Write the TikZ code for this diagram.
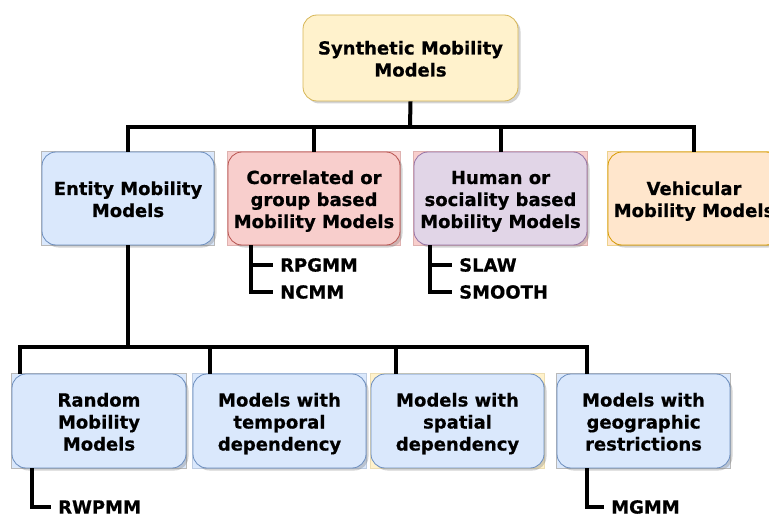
\documentclass[tikz,border=0pt]{standalone}
\usepackage{fontspec}
\setmainfont{DejaVu Sans}[BoldFeatures={FakeBold=0.6}]
\usepackage{tikz}
\usetikzlibrary{shapes,shadows,calc,backgrounds}
\definecolor{ylwfill}{HTML}{FFF2CC}
\definecolor{ylwline}{HTML}{D6B656}
\definecolor{blufill}{HTML}{DAE8FC}
\definecolor{bluline}{HTML}{6C8EBF}
\definecolor{redfill}{HTML}{F8CECC}
\definecolor{redline}{HTML}{B85450}
\definecolor{prpfill}{HTML}{E1D5E7}
\definecolor{prpline}{HTML}{9673A6}
\definecolor{orgfill}{HTML}{FFE6CC}
\definecolor{orgline}{HTML}{D79B00}
\newcommand{\topstrut}{\rule{0pt}{20pt}}

\begin{document}
\begin{tikzpicture}[x=1pt, y=-1pt, font=\bfseries\fontsize{18}{22}\selectfont,
	box/.style={rectangle, rounded corners=14pt, align=center, minimum width=172pt, minimum height=93pt, inner sep=2pt, line width=0.8pt,
		execute at end node={\rule[-5pt]{0pt}{5pt}},
		drop shadow={shadow xshift=2.5pt, shadow yshift=-2.5pt, opacity=0.35}},
	leaf/.style={anchor=west, inner ysep=0pt, inner xsep=7pt},
	bus/.style={draw=black, line width=4pt},
	back/.style={line width=0.6pt}]
	\clip (0,0) rectangle (769,516);
	\node[box, fill=ylwfill, draw=ylwline, minimum width=215pt, minimum height=86pt] (1) at (410.5,58) {\topstrut Synthetic Mobility\\Models};
	\node[box, fill=blufill, draw=bluline] (2) at (128,198.5) {\topstrut Entity Mobility\\Models};
	\node[box, fill=redfill, draw=redline] (3) at (314,198.5) {\topstrut Correlated or\\group based\\Mobility Models};
	\node[box, fill=prpfill, draw=prpline, minimum width=173pt] (4) at (500.5,198.5) {\topstrut Human or\\sociality based\\Mobility Models};
	\node[box, fill=orgfill, draw=orgline] (5) at (694,198.5) {\topstrut Vehicular\\Mobility Models};
	
	\node[box, fill=blufill, draw=bluline, minimum width=174pt, minimum height=94pt] (6) at (99,421) {\topstrut Random\\Mobility\\Models};
	\node[box, fill=blufill, draw=bluline, minimum width=173pt, minimum height=94pt] (7) at (279.5,421) {\topstrut Models with\\temporal\\dependency};
	\node[box, fill=blufill, draw=bluline, minimum width=173pt, minimum height=94pt] (8) at (457.5,421) {\topstrut Models with\\spatial\\dependency};
	\node[box, fill=blufill, draw=bluline, minimum width=173pt, minimum height=94pt] (9) at (643.5,421) {\topstrut Models with\\geographic\\restrictions};
	
	\node[leaf] (10) at (273,265) {RPGMM};
	\node[leaf] (11) at (273,292) {NCMM};
	\node[leaf] (12) at (452,265) {SLAW};
	\node[leaf] (13) at (452,292) {SMOOTH};
	\node[leaf] (14) at (51,507) {RWPMM};
	\node[leaf] (15) at (604,507) {MGMM};
	
	\coordinate (a) at (410,127);
	\coordinate (b) at (126,347);
	\draw[bus] (1.south) -- (a);
	\draw[bus] (2.north) |- (a) -| (5.north);
	\draw[bus] (3.north) -- (3.north |- a);
	\draw[bus] (4.north) -- (4.north |- a);
	
	\draw[bus] (2.south) -- (2.south |- b);
	\draw[bus] ($(6.north west)+(8,0)$) |- (b) -| ($(9.north west)+(30,0)$);
	\draw[bus] ($(7.north west)+(17,0)$) -- ++(0,-27);
	\draw[bus] ($(8.north west)+(25,0)$) -- ++(0,-27);
	
	\draw[bus] ($(3.south west)+(23,0)$) |- (11.west);
	\draw[bus] ($(3.south west)+(23,0)$) |- (10.west);
	\draw[bus] ($(4.south west)+(16,0)$) |- (13.west);
	\draw[bus] ($(4.south west)+(16,0)$) |- (12.west);
	\draw[bus] ($(6.south west)+(20,0)$) |- (14.west);
	\draw[bus] ($(9.south west)+(30,0)$) |- (15.west);
	
	\begin{scope}[on background layer]
		\draw[back, fill=blufill, draw=gray!55] (2.north west) rectangle (2.south east);
		\draw[back, fill=redfill, draw=redline!45] (3.north west) rectangle (3.south east);
		\draw[back, fill=redfill, draw=redline!45] (4.north west) rectangle (4.south east);
		\draw[back, fill=orgfill, draw=orgline!45] (5.north west) rectangle (5.south east);
		\draw[back, fill=blufill, draw=gray!55] (6.north west) rectangle (6.south east);
		\draw[back, fill=blufill, draw=bluline!45] (7.north west) rectangle (7.south east);
		\draw[back, fill=ylwfill, draw=ylwline!45] (8.north west) rectangle (8.south east);
		\draw[back, fill=blufill, draw=gray!55] (9.north west) rectangle (9.south east);
	\end{scope}
\end{tikzpicture}
\end{document}
